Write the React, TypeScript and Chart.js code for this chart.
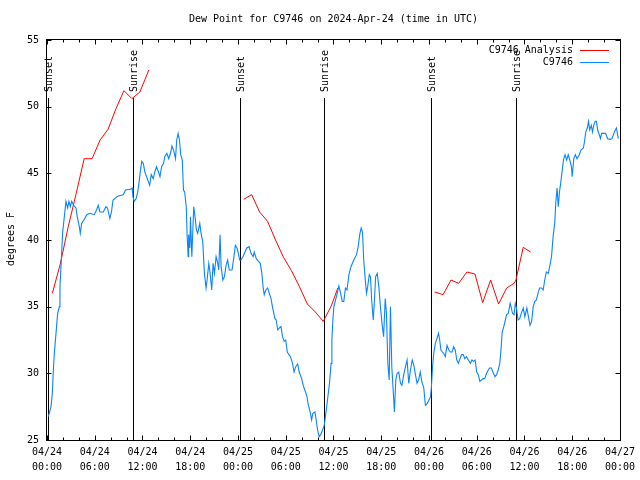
import React, { useEffect, useRef } from "react";
import { Chart, registerables } from "chart.js";

Chart.register(...registerables);

const TITLE = "Dew Point for C9746 on 2024-Apr-24 (time in UTC)";
const Y_LABEL = "degrees F";
const LEGEND_ANALYSIS = "C9746 Analysis";
const LEGEND_OBS = "C9746";

const xTickHours = [0, 6, 12, 18, 24, 30, 36, 42, 48, 54, 60, 66, 72];
const xTickDates = ["04/24", "04/24", "04/24", "04/24", "04/25", "04/25", "04/25", "04/25", "04/26", "04/26", "04/26", "04/26", "04/27"];
const xTickTimes = ["00:00", "06:00", "12:00", "18:00", "00:00", "06:00", "12:00", "18:00", "00:00", "06:00", "12:00", "18:00", "00:00"];
const yTicks = [25, 30, 35, 40, 45, 50, 55];

const sunHours = [0.17, 10.83, 24.26, 34.8, 48.27, 58.9];
const sunLabels = ["Sunset", "Sunrise", "Sunset", "Sunrise", "Sunset", "Sunrise"];

// hours since 04/24 00:00 UTC; null breaks the line
const analysisHours = [
  0.67, 1.67, 2.67, 3.67, 4.67, 5.67, 6.67, 7.67, 8.67, 9.67, 10.67, 11.67, 12.8, 18,
  24.72, 25.72, 26.72, 27.72, 28.72, 29.72, 30.72, 31.72, 32.72, 33.72, 34.72, 35.72, 36.55, 42,
  48.72, 49.77, 50.77, 51.73, 52.77, 53.78, 54.75, 55.75, 56.75, 57.76, 58.7, 58.93, 59.85, 60.77,
];
const analysisValues = [
  36.0, 38.2, 41.0, 43.5, 46.1, 46.1, 47.5, 48.3, 49.85, 51.2, 50.6, 51.1, 52.75, null,
  43.05, 43.4, 42.1, 41.4, 40.0, 38.7, 37.7, 36.5, 35.2, 34.6, 33.9, 35.05, 36.4, null,
  36.1, 35.9, 37.0, 36.75, 37.6, 37.45, 35.3, 37.0, 35.2, 36.4, 36.75, 37.0, 39.45, 39.1,
];

const obsHours = [
  0.17, 0.5, 0.67, 0.8, 0.92, 1.13, 1.34, 1.55, 1.63, 1.84, 1.97, 2.18, 2.38, 2.59, 2.76, 2.93, 3.1, 3.35, 3.64, 3.8,
  4.06, 4.18, 4.35, 4.69, 5.0, 5.4, 5.94, 6.23, 6.44, 6.65, 7.07, 7.4, 7.6, 7.9, 8.1, 8.3, 8.5, 8.95, 9.58, 9.87,
  10.5, 10.7, 10.8, 10.96, 11.2, 11.4, 11.55, 11.7, 11.9, 12.1, 12.3, 12.6, 12.9, 13.1, 13.35, 13.55, 13.77, 14.0, 14.2, 14.4,
  14.65, 14.8, 15.06, 15.3, 15.56, 15.7, 15.9, 16.15, 16.3, 16.48, 16.65, 16.8, 17.0, 17.15, 17.3, 17.5, 17.6, 17.74, 17.8, 17.95,
  18.03, 18.2, 18.44, 18.6, 18.78, 18.94, 19.2, 19.36, 19.57, 19.78, 19.99, 20.12, 20.33, 20.5, 20.7, 20.87, 21.04, 21.25, 21.46, 21.58,
  21.75, 21.88, 22.1, 22.3, 22.5, 22.7, 22.9, 23.25, 23.46, 23.67, 23.88, 24.05, 24.2, 24.38, 24.63, 24.88, 25.1, 25.39, 25.64, 25.9,
  26.05, 26.3, 26.56, 26.8, 27.0, 27.15, 27.3, 27.5, 27.73, 27.94, 28.15, 28.3, 28.5, 28.65, 28.8, 29.0, 29.2, 29.4, 29.6, 29.8,
  30.0, 30.2, 30.4, 30.6, 30.85, 31.05, 31.25, 31.5, 31.7, 32.0, 32.2, 32.4, 32.67, 32.8, 33.1, 33.25, 33.4, 33.67, 33.83, 34.0,
  34.2, 34.4, 34.63, 34.84, 35.04, 35.25, 35.5, 35.7, 35.8, 35.9, 36.05, 36.26, 36.47, 36.68, 36.9, 37.1, 37.3, 37.5, 37.7, 37.94,
  38.2, 38.55, 38.9, 39.1, 39.3, 39.48, 39.65, 39.8, 40.0, 40.15, 40.3, 40.5, 40.65, 40.8, 41.0, 41.15, 41.3, 41.5, 41.7, 41.9,
  42.1, 42.3, 42.5, 42.66, 42.83, 43.0, 43.16, 43.33, 43.5, 43.66, 43.83, 44.0, 44.2, 44.42, 44.6, 44.83, 45.05, 45.25, 45.46, 45.67,
  45.9, 46.1, 46.3, 46.5, 46.7, 46.9, 47.1, 47.35, 47.55, 47.8, 48.0, 48.2, 48.3, 48.45, 48.6, 48.8, 49.0, 49.2, 49.35, 49.5,
  49.7, 49.85, 50.05, 50.27, 50.5, 50.7, 50.9, 51.1, 51.3, 51.5, 51.7, 51.9, 52.1, 52.3, 52.5, 52.7, 52.95, 53.2, 53.4, 53.6,
  53.8, 54.0, 54.2, 54.4, 54.6, 54.8, 55.0, 55.25, 55.45, 55.6, 55.85, 56.1, 56.3, 56.5, 56.7, 56.9, 57.05, 57.2, 57.4, 57.6,
  57.76, 57.97, 58.2, 58.35, 58.5, 58.7, 58.85, 59.0, 59.2, 59.4, 59.6, 59.85, 60.05, 60.3, 60.5, 60.7, 60.9, 61.1, 61.3, 61.5,
  61.7, 61.9, 62.15, 62.35, 62.55, 62.75, 63.0, 63.2, 63.4, 63.6, 63.8, 63.95, 64.1, 64.25, 64.4, 64.55, 64.7, 64.9, 65.1, 65.3,
  65.5, 65.7, 65.9, 66.0, 66.2, 66.4, 66.6, 66.9, 67.1, 67.4, 67.55, 67.7, 67.9, 68.05, 68.2, 68.4, 68.55, 68.7, 68.9, 69.05,
  69.2, 69.4, 69.55, 69.7, 69.95, 70.2, 70.45, 70.8, 71.0, 71.3, 71.55, 71.8,
];
const obsValues = [
  26.75, 27.5, 28.5, 30.25, 31.5, 33.0, 34.5, 35.0, 36.5, 39.0, 40.6, 41.75, 42.9, 42.4, 42.9, 42.5, 42.9, 42.6, 42.4, 41.75,
  41.0, 40.5, 41.25, 41.55, 41.9, 42.0, 41.9, 42.25, 42.6, 42.1, 42.1, 42.5, 42.4, 41.6, 42.1, 43.0, 43.1, 43.3, 43.4, 43.75,
  43.8, 43.9, 43.25, 42.9, 43.1, 43.6, 44.25, 45.0, 45.9, 45.75, 45.1, 44.6, 44.1, 44.9, 44.6, 45.1, 45.5, 45.1, 44.75, 45.5,
  45.75, 46.25, 46.5, 46.1, 46.6, 47.05, 46.75, 46.1, 47.5, 48.0, 47.5, 46.4, 46.0, 43.75, 43.6, 42.5, 40.5, 38.75, 40.4, 39.4,
  41.75, 38.75, 42.5, 41.75, 40.75, 40.5, 41.25, 40.5, 39.9, 37.5, 36.4, 37.0, 38.25, 37.5, 36.25, 38.25, 37.5, 38.75, 38.25, 37.75,
  40.4, 38.0, 37.0, 37.25, 38.1, 38.5, 37.75, 37.75, 38.6, 39.6, 39.4, 39.0, 38.5, 38.5, 38.75, 39.1, 39.4, 39.5, 39.0, 38.75,
  39.1, 38.6, 38.4, 38.25, 37.5, 36.5, 35.9, 36.25, 36.4, 36.0, 35.6, 35.1, 34.5, 34.1, 34.0, 33.25, 33.4, 33.5, 32.75, 32.4,
  32.5, 31.6, 31.4, 31.25, 30.75, 30.1, 30.5, 30.7, 30.1, 29.6, 29.1, 28.75, 28.25, 27.75, 27.0, 26.5, 27.0, 27.1, 26.5, 25.75,
  25.25, 25.4, 25.75, 26.1, 27.0, 28.0, 29.25, 30.75, 32.5, 33.75, 35.0, 35.5, 36.0, 36.55, 36.0, 35.4, 35.4, 36.4, 36.25, 37.4,
  38.0, 38.5, 38.9, 39.5, 40.4, 40.9, 40.6, 38.5, 37.0, 36.0, 36.5, 37.4, 37.25, 35.5, 34.0, 35.5, 37.25, 37.5, 36.5, 35.0,
  33.75, 32.75, 35.6, 34.5, 30.75, 29.5, 35.0, 30.5, 28.75, 27.1, 29.5, 30.0, 30.1, 29.25, 29.1, 29.9, 30.5, 31.0, 29.25, 30.25,
  31.0, 30.6, 29.9, 29.25, 29.5, 30.1, 29.4, 28.9, 27.6, 27.75, 28.0, 28.25, 28.9, 30.5, 31.5, 32.25, 32.6, 33.0, 32.5, 31.75,
  31.6, 31.5, 31.25, 32.1, 31.75, 31.6, 31.6, 32.0, 31.75, 31.0, 30.75, 31.1, 31.4, 31.4, 31.1, 31.25, 31.0, 30.75, 31.0, 30.9,
  31.0, 30.1, 29.9, 29.4, 29.5, 29.6, 29.6, 30.0, 30.25, 30.4, 30.4, 30.0, 29.75, 29.9, 30.25, 30.75, 31.75, 33.1, 33.5, 34.0,
  34.4, 34.5, 35.25, 34.9, 34.5, 34.4, 35.25, 34.9, 34.0, 34.1, 34.5, 34.9, 34.25, 34.9, 34.25, 33.6, 33.9, 35.0, 35.4, 35.5,
  36.0, 36.4, 36.4, 36.25, 37.0, 37.6, 37.5, 38.1, 38.75, 40.25, 41.25, 42.9, 43.9, 42.5, 43.6, 44.25, 45.0, 46.0, 46.4, 46.0,
  46.4, 46.0, 45.5, 44.75, 46.1, 46.4, 46.1, 46.4, 46.75, 46.9, 47.4, 48.1, 48.4, 48.9, 48.25, 48.6, 48.1, 48.6, 48.9, 48.9,
  48.25, 47.9, 47.6, 48.0, 48.0, 48.0, 47.6, 47.55, 47.6, 48.1, 48.4, 47.6,
];

const RED = "#ff0000";
const BLUE = "#0a84ff";
const FONT = "DejaVu Sans Mono";

const overlay = {
  id: "gnuplotOverlay",
  beforeDatasetsDraw(chart: any) {
    const { ctx, chartArea: a, scales } = chart;
    const x = scales.x;
    ctx.save();
    ctx.strokeStyle = "#000";
    ctx.fillStyle = "#000";
    ctx.lineWidth = 1;
    ctx.font = `10px '${FONT}'`;
    sunHours.forEach((h, i) => {
      const px = Math.round(x.getPixelForValue(h)) + 0.5;
      ctx.beginPath();
      ctx.moveTo(px, a.top + 58);
      ctx.lineTo(px, a.bottom);
      ctx.stroke();
      ctx.save();
      ctx.translate(px + 0.5, a.top + 52);
      ctx.rotate(-Math.PI / 2);
      ctx.textAlign = "left";
      ctx.textBaseline = "middle";
      ctx.fillText(sunLabels[i], 0, 0);
      ctx.restore();
    });
    ctx.restore();
  },
  afterDraw(chart: any) {
    const { ctx, chartArea: a, scales } = chart;
    const x = scales.x;
    const y = scales.y;
    ctx.save();
    ctx.strokeStyle = "#000";
    ctx.fillStyle = "#000";
    ctx.lineWidth = 1;
    const L = Math.round(a.left) - 0.5;
    const R = Math.round(a.right) + 0.5;
    const T = Math.round(a.top) - 0.5;
    const B = Math.round(a.bottom) + 0.5;
    ctx.strokeRect(L, T, R - L, B - T);
    ctx.beginPath();
    for (let h = 0; h <= 72; h += 2) {
      const px = Math.round(x.getPixelForValue(h)) + 0.5;
      const len = h % 6 === 0 ? 5 : 3;
      ctx.moveTo(px, B);
      ctx.lineTo(px, B - len);
      ctx.moveTo(px, T);
      ctx.lineTo(px, T + len);
    }
    yTicks.forEach((v) => {
      const py = Math.round(y.getPixelForValue(v)) + 0.5;
      ctx.moveTo(L, py);
      ctx.lineTo(L + 5, py);
      ctx.moveTo(R, py);
      ctx.lineTo(R - 5, py);
    });
    ctx.stroke();

    ctx.font = `10px '${FONT}'`;
    ctx.textBaseline = "middle";
    ctx.textAlign = "center";
    ctx.fillText(TITLE, (a.left + a.right) / 2, 19);

    ctx.textAlign = "right";
    ctx.fillText(LEGEND_ANALYSIS, a.right - 47, a.top + 10);
    ctx.fillText(LEGEND_OBS, a.right - 47, a.top + 22);
    ctx.strokeStyle = RED;
    ctx.beginPath();
    ctx.moveTo(a.right - 40, a.top + 10.5);
    ctx.lineTo(a.right - 11, a.top + 10.5);
    ctx.stroke();
    ctx.strokeStyle = BLUE;
    ctx.beginPath();
    ctx.moveTo(a.right - 40, a.top + 22.5);
    ctx.lineTo(a.right - 11, a.top + 22.5);
    ctx.stroke();

    ctx.save();
    ctx.translate(11, (a.top + a.bottom) / 2 - 1);
    ctx.rotate(-Math.PI / 2);
    ctx.textAlign = "center";
    ctx.fillText(Y_LABEL, 0, 0);
    ctx.restore();
    ctx.restore();
  },
};

export default function App() {
  const ref = useRef<HTMLCanvasElement | null>(null);
  useEffect(() => {
    if (!ref.current) return;
    Chart.defaults.font.family = FONT;
    Chart.defaults.color = "#000";
    const analysisData = analysisHours.map((h, i) => ({ x: h, y: analysisValues[i] }));
    const obsData = obsHours.map((h, i) => ({ x: h, y: obsValues[i] }));
    const chart = new Chart(ref.current, {
      type: "line",
      data: {
        datasets: [
          {
            label: LEGEND_OBS,
            data: obsData as any,
            borderColor: BLUE,
            borderWidth: 1.1,
            pointRadius: 0,
            tension: 0,
            spanGaps: false,
          },
          {
            label: LEGEND_ANALYSIS,
            data: analysisData as any,
            borderColor: RED,
            borderWidth: 1,
            pointRadius: 0,
            tension: 0,
            spanGaps: false,
          },
        ],
      },
      options: {
        responsive: false,
        animation: false,
        devicePixelRatio: 1,
        layout: { padding: { top: 40, right: 19, left: 0, bottom: 0 } },
        plugins: { legend: { display: false }, title: { display: false }, tooltip: { enabled: false } },
        scales: {
          x: {
            type: "linear",
            min: 0,
            max: 72,
            grid: { display: false, drawTicks: false },
            border: { display: false },
            afterBuildTicks: (s: any) => {
              s.ticks = xTickHours.map((v) => ({ value: v }));
            },
            afterFit: (s: any) => {
              s.height = 40;
            },
            ticks: {
              autoSkip: false,
              maxRotation: 0,
              minRotation: 0,
              padding: 5,
              color: "#000",
              font: { family: FONT, size: 10, lineHeight: 1.5 },
              callback: (v: any) => {
                const i = xTickHours.indexOf(Number(v));
                return i >= 0 ? [xTickDates[i], xTickTimes[i]] : "";
              },
            },
          },
          y: {
            type: "linear",
            min: 25,
            max: 55,
            grid: { display: false, drawTicks: false },
            border: { display: false },
            afterBuildTicks: (s: any) => {
              s.ticks = yTicks.map((v) => ({ value: v }));
            },
            afterFit: (s: any) => {
              s.width = 47;
            },
            ticks: {
              padding: 8,
              color: "#000",
              font: { family: FONT, size: 10 },
              callback: (v: any) => String(v),
            },
          },
        },
      },
      plugins: [overlay],
    });
    return () => chart.destroy();
  }, []);
  return (
    <div style={{ position: "absolute", left: 0, top: 0, width: 640, height: 480, background: "#fff" }}>
      <canvas ref={ref} width={640} height={480} style={{ display: "block" }} />
    </div>
  );
}
